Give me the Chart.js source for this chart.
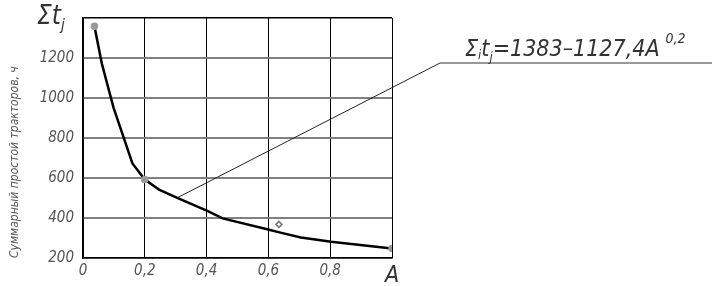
<!DOCTYPE html>
<html>
<head>
<meta charset="utf-8">
<script src="https://cdn.jsdelivr.net/npm/chart.js@4/dist/chart.umd.min.js"></script>
<style>
  html, body { margin: 0; padding: 0; background: #fff; }
  #wrap { width: 712px; height: 286px; }
</style>
</head>
<body>
<div id="wrap"><canvas id="downtimeChart"></canvas></div>
<script>
// A values and summed downtime (h)
const aValues = [0.037, 0.061, 0.099, 0.160, 0.200, 0.246, 0.305, 0.404, 0.452, 0.596, 0.639, 0.705, 0.803, 1.0];
const downtime = [1359, 1172, 951, 673, 592, 542, 501, 434, 398, 344, 327, 303, 281, 248];
const markedIdx = [0, 4, 13];          // points drawn with grey dots
const outlierA = [0.634];
const outlierT = [368];
const xTicks = ['0', '0,2', '0,4', '0,6', '0,8', 'A'];
const yTicks = [200, 400, 600, 800, 1000, 1200];
const leaderIdx = 6;                   // curve point where the formula leader starts

const FONT = "'Liberation Sans Narrow', 'DejaVu Sans Condensed', sans-serif";

const labelsPlugin = {
  id: 'labels',
  afterDraw(chart) {
    const ctx = chart.ctx;
    const area = chart.chartArea;
    const xs = chart.scales.x, ys = chart.scales.y;
    ctx.save();

    // leader line from the curve to the formula
    const px = xs.getPixelForValue(aValues[leaderIdx]);
    const py = ys.getPixelForValue(downtime[leaderIdx]);
    const kx = area.right + 48, ky = area.top + 45;
    ctx.strokeStyle = '#222';
    ctx.lineWidth = 1;
    ctx.beginPath();
    ctx.moveTo(px, py);
    ctx.lineTo(kx, ky);
    ctx.stroke();
    ctx.strokeStyle = '#777';
    ctx.lineWidth = 1.5;
    ctx.beginPath();
    ctx.moveTo(kx, ky);
    ctx.lineTo(chart.width, ky);
    ctx.stroke();

    // formula
    ctx.fillStyle = '#333';
    ctx.textBaseline = 'alphabetic';
    let x = kx + 25;
    const base = ky - 7;
    const part = (txt, size, dy) => {
      ctx.font = 'italic ' + size + 'px ' + FONT;
      ctx.fillText(txt, x, base + dy);
      x += ctx.measureText(txt).width;
    };
    part('Σ', 23, 0);
    part('i', 13, 3);
    part('t', 23, 0);
    part('j', 13, 5);
    part('=1383–1127,4A', 23, 0);
    x += 6;
    part('0,2', 14, -13);

    // y symbol at top of the axis
    x = area.left - 46;
    ctx.fillStyle = '#333';
    ctx.font = 'italic 26px ' + FONT;
    ctx.fillText('Σt', x, area.top + 6);
    x += ctx.measureText('Σt').width;
    ctx.font = 'italic 15px ' + FONT;
    ctx.fillText('j', x, area.top + 12);
    ctx.restore();
  }
};

new Chart(document.getElementById('downtimeChart'), {
  type: 'scatter',
  data: {
    datasets: [{
      data: aValues.map((a, i) => ({ x: a, y: downtime[i] })),
      showLine: true,
      borderColor: '#000',
      borderWidth: 2.5,
      tension: 0,
      pointRadius: aValues.map((a, i) => markedIdx.includes(i) ? 2.5 : 0),
      pointBackgroundColor: '#999',
      pointBorderColor: '#999'
    }, {
      data: outlierA.map((a, i) => ({ x: a, y: outlierT[i] })),
      pointStyle: 'rectRot',
      pointRadius: 3,
      pointBackgroundColor: '#fff',
      pointBorderColor: '#777',
      pointBorderWidth: 1.5
    }]
  },
  options: {
    responsive: true,
    maintainAspectRatio: false,
    animation: false,
    layout: { padding: { top: 17, right: 320, left: 0, bottom: 0 } },
    plugins: { legend: { display: false }, tooltip: { enabled: false } },
    scales: {
      x: {
        type: 'linear',
        min: 0,
        max: 1,
        afterBuildTicks: (s) => { s.ticks = xTicks.map((t, i) => ({ value: i * 0.2 })); },
        afterFit: (s) => { s.height = 28; },
        ticks: {
          callback: (v, i) => xTicks[i],
          color: (c) => c.index === 5 ? '#333' : '#555',
          font: (c) => c.index === 5
            ? { family: FONT, size: 23, style: 'italic' }
            : { family: FONT, size: 15, style: 'italic' },
          padding: 4,
          maxRotation: 0
        },
        grid: { color: '#000', lineWidth: 1, drawTicks: false },
        border: { color: '#000', width: 1.5 }
      },
      y: {
        type: 'linear',
        min: 200,
        max: 1400,
        afterBuildTicks: (s) => { s.ticks = yTicks.concat([1400]).map(v => ({ value: v })); },
        afterFit: (s) => { s.width = 83; },
        ticks: {
          callback: (v) => v === 1400 ? '' : String(v),
          color: '#555',
          font: { family: FONT, size: 15, style: 'italic' },
          padding: 9
        },
        grid: {
          color: (c) => c.tick && c.tick.value === 1400 ? '#000' : '#808080',
          lineWidth: (c) => c.tick && c.tick.value === 1400 ? 1.5 : 2,
          drawTicks: false
        },
        border: { color: '#000', width: 1.5 },
        title: {
          display: true,
          text: 'Суммарный простой тракторов, ч',
          align: 'start',
          color: '#555',
          font: { family: FONT, size: 12, style: 'italic' },
          padding: { top: 8, bottom: 0 }
        }
      }
    }
  },
  plugins: [labelsPlugin]
});
</script>
</body>
</html>
